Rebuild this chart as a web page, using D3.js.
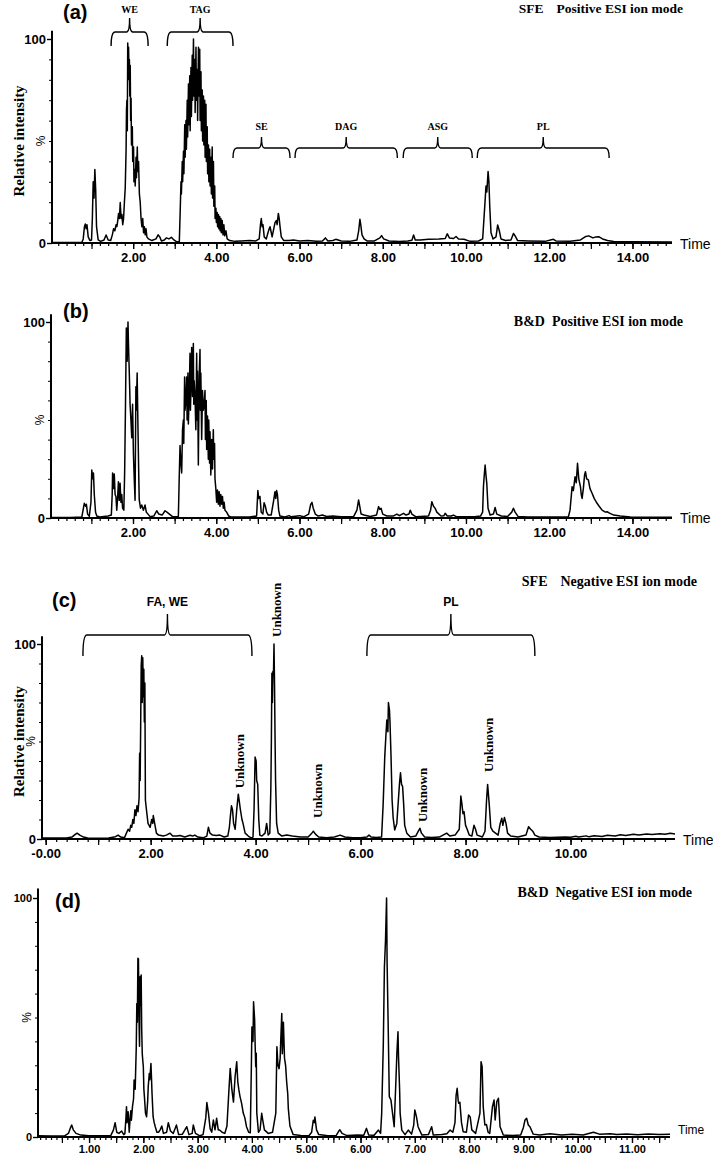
<!DOCTYPE html>
<html lang="en">
<head>
<meta charset="UTF-8" />
<title>LC-MS chromatograms (a)-(d)</title>
<script src="https://cdn.jsdelivr.net/npm/d3@7"></script>
<style>
  body { margin: 0; background: #fff; }
  svg { display: block; }
  .serif { font-family: "Liberation Serif", "Times New Roman", serif; font-weight: bold; }
  .sans { font-family: "Liberation Sans", Arial, sans-serif; }
</style>
</head>
<body>
<script>
// ---- data: [time (min), relative intensity (%)] ----
const traceA = [[0.05,0.3],[0.5,0.3],[0.77,0.4],[0.8,2],[0.83,8],[0.85,9.3],[0.87,7],[0.89,9],[0.92,3],[0.96,1.2],[1.0,1.5],[1.02,12],[1.04,30],[1.06,22],[1.08,36],[1.10,26],[1.12,8],[1.16,1.5],[1.22,0.8],[1.3,1.5],[1.35,3.9],[1.4,1.5],[1.46,1.2],[1.5,4],[1.53,7],[1.56,6],[1.59,9],[1.61,8],[1.63,11],[1.65,14.5],[1.67,12],[1.69,19.8],[1.71,12],[1.73,14],[1.75,9],[1.77,12],[1.79,20],[1.81,27],[1.83,45],[1.84,65],[1.85,70],[1.86,55],[1.87,98],[1.88,80],[1.89,96],[1.90,84],[1.91,90],[1.92,72],[1.93,87],[1.94,60],[1.95,71],[1.96,48],[1.98,57],[1.99,40],[2.01,47],[2.02,30],[2.04,36],[2.05,28],[2.07,42],[2.08,32],[2.10,47],[2.11,35],[2.13,40],[2.15,24],[2.17,20],[2.19,12],[2.21,8],[2.23,12],[2.25,5],[2.27,8],[2.29,4],[2.31,7],[2.33,3],[2.37,2],[2.45,1.2],[2.55,2],[2.6,4],[2.64,3],[2.68,1],[2.75,1.5],[2.8,2.5],[2.86,2],[2.92,2.8],[2.98,1.5],[3.05,0.6],[3.11,0.8],[3.13,15],[3.15,30],[3.16,24],[3.18,40],[3.19,30],[3.21,45],[3.22,34],[3.24,58],[3.25,42],[3.27,60],[3.28,46],[3.30,70],[3.31,52],[3.33,78],[3.34,58],[3.36,82],[3.37,55],[3.39,86],[3.40,62],[3.42,92],[3.43,70],[3.45,100],[3.46,72],[3.48,90],[3.49,64],[3.51,96],[3.52,70],[3.54,85],[3.55,60],[3.57,96],[3.58,72],[3.60,95],[3.61,60],[3.63,84],[3.64,55],[3.66,75],[3.67,50],[3.69,72],[3.70,48],[3.72,70],[3.73,42],[3.75,68],[3.76,40],[3.78,57],[3.79,34],[3.81,48],[3.82,30],[3.84,46],[3.85,28],[3.87,42],[3.88,24],[3.90,47],[3.91,22],[3.93,40],[3.94,18],[3.96,28],[3.97,12],[3.99,17],[4.00,10],[4.02,15],[4.03,8],[4.05,14],[4.06,7],[4.08,13],[4.09,6],[4.11,12],[4.12,5],[4.14,11],[4.16,4],[4.18,9],[4.20,3.5],[4.23,6],[4.26,2],[4.32,1.2],[4.45,0.8],[4.6,1],[4.8,1.2],[4.95,1],[5.03,2],[5.06,9],[5.08,12],[5.10,8],[5.12,9],[5.15,3],[5.2,2],[5.24,5],[5.27,7],[5.29,8],[5.31,6],[5.34,3],[5.38,7],[5.41,10],[5.44,11],[5.46,9],[5.49,14.5],[5.51,12],[5.53,8],[5.56,3],[5.62,1.2],[5.75,1.2],[5.85,1.5],[6.0,1],[6.2,1.2],[6.4,0.8],[6.55,1],[6.62,2.5],[6.68,1],[6.8,1.2],[6.87,1.8],[7.0,1],[7.2,0.8],[7.38,1.5],[7.42,6],[7.45,11.6],[7.47,9],[7.5,4],[7.55,2],[7.62,1],[7.8,1],[7.93,2.5],[7.97,3.6],[8.02,2],[8.15,1],[8.4,0.7],[8.6,1],[8.7,1.3],[8.74,3.9],[8.78,1.5],[8.9,1.5],[9.1,1.8],[9.35,2],[9.5,2.2],[9.55,4.5],[9.6,2.5],[9.7,2.2],[9.76,3.2],[9.82,2],[9.95,1.8],[10.1,0.8],[10.3,1],[10.4,2],[10.45,18],[10.48,28],[10.5,25],[10.53,35],[10.55,30],[10.57,18],[10.6,5],[10.65,2],[10.72,3],[10.76,8.8],[10.8,6],[10.84,2],[10.95,1.2],[11.08,1.5],[11.14,4.7],[11.18,3.5],[11.24,1.2],[11.5,1],[11.9,0.8],[12.1,1.8],[12.16,1],[12.5,0.8],[12.75,1.5],[12.88,3.2],[12.95,3.5],[13.05,2.5],[13.12,3],[13.19,3.1],[13.28,2],[13.4,1.2],[13.55,0.7],[14.0,0.6],[14.95,0.5]];

const traceB = [[0.03,0.3],[0.5,0.3],[0.77,0.5],[0.8,4],[0.83,7.5],[0.86,6],[0.88,7],[0.91,2],[0.95,0.8],[0.99,8],[1.01,24.5],[1.03,20],[1.05,23],[1.07,12],[1.1,3],[1.13,1],[1.2,0.5],[1.3,0.8],[1.4,1],[1.48,1.5],[1.5,12],[1.51,23],[1.53,15],[1.55,22.5],[1.57,12],[1.59,11],[1.61,4],[1.63,10],[1.65,18.5],[1.67,9],[1.69,17.7],[1.71,8],[1.73,12],[1.75,5],[1.78,4],[1.8,24],[1.82,58],[1.84,97],[1.86,80],[1.88,100],[1.89,90],[1.91,75],[1.93,58],[1.95,50],[1.97,41],[1.99,58],[2.01,33],[2.03,20],[2.05,9],[2.07,67],[2.08,55],[2.10,74],[2.12,45],[2.14,20],[2.15,9.2],[2.18,5],[2.21,6.6],[2.25,4],[2.29,6.6],[2.32,3],[2.41,0.7],[2.5,1],[2.57,3.7],[2.62,2],[2.7,1.5],[2.77,3.7],[2.83,2.7],[2.95,0.7],[3.09,0.7],[3.11,20],[3.13,37],[3.15,28],[3.17,23],[3.19,45],[3.21,50],[3.22,38],[3.24,72],[3.25,55],[3.27,60],[3.29,72],[3.30,50],[3.32,74],[3.33,48],[3.35,62],[3.37,84],[3.38,55],[3.40,72],[3.41,87],[3.43,62],[3.45,89],[3.46,58],[3.47,70],[3.49,62],[3.51,45],[3.53,84],[3.54,50],[3.55,75],[3.57,27],[3.59,72],[3.61,86],[3.62,55],[3.63,74],[3.65,40],[3.67,65],[3.69,55],[3.71,58],[3.73,65],[3.74,40],[3.76,60],[3.77,35],[3.79,52],[3.81,30],[3.82,50],[3.84,28],[3.85,44],[3.87,22],[3.89,40],[3.91,25],[3.93,45],[3.94,30],[3.96,38],[3.97,20],[3.99,15],[4.01,8],[4.03,14.3],[4.05,7],[4.07,13.4],[4.09,6],[4.11,12],[4.13,7],[4.15,11],[4.17,5],[4.19,8],[4.21,4],[4.25,3],[4.3,1],[4.35,0.5],[4.8,0.5],[4.97,1],[5.0,14],[5.02,10],[5.05,11],[5.08,3],[5.12,2],[5.15,7.8],[5.18,6],[5.21,3],[5.25,1.5],[5.32,1.5],[5.38,9],[5.41,13.4],[5.43,10],[5.45,14],[5.47,12],[5.5,4],[5.53,1],[5.65,0.5],[5.75,1.2],[5.8,0.6],[6.0,1.2],[6.1,0.6],[6.22,2],[6.27,7],[6.3,8],[6.33,5],[6.38,2],[6.45,1],[6.55,1.5],[6.65,0.8],[6.8,1],[7.0,0.6],[7.3,0.7],[7.38,4],[7.42,9.2],[7.44,7],[7.48,2],[7.55,1.5],[7.7,0.8],[7.85,1.5],[7.9,5.8],[7.93,4.4],[7.96,5],[8.0,2],[8.1,1],[8.25,1],[8.34,2],[8.4,1.2],[8.5,2.4],[8.56,1.5],[8.63,2],[8.66,4],[8.7,2],[8.8,0.6],[9.1,1],[9.15,4],[9.18,8.3],[9.22,6],[9.26,4.9],[9.3,3],[9.4,1],[9.47,1.2],[9.5,2.4],[9.55,1],[9.65,1],[9.7,1.5],[9.78,0.6],[10.2,0.6],[10.35,1],[10.4,3],[10.42,16],[10.44,22],[10.46,27],[10.48,22],[10.5,17.7],[10.53,5],[10.58,1.5],[10.66,2],[10.7,5.4],[10.74,2],[10.85,1],[11.0,0.8],[11.1,3],[11.14,5],[11.18,3],[11.25,0.8],[11.5,0.5],[12.46,0.5],[12.5,4],[12.55,16],[12.58,14],[12.62,21],[12.65,18],[12.68,27.9],[12.71,20],[12.75,16],[12.77,12],[12.79,10],[12.82,15],[12.85,22],[12.87,23.6],[12.9,20],[12.94,19.4],[12.98,15],[13.03,12.6],[13.08,10],[13.15,7.5],[13.2,6],[13.27,4],[13.35,3],[13.39,3.2],[13.45,2.5],[13.55,1.5],[13.71,1],[13.95,0.5],[14.95,0.4]];

const traceC = [[-0.07,0.5],[0.4,0.5],[0.5,1],[0.57,2.5],[0.6,3],[0.65,2],[0.72,1],[0.8,0.5],[1.0,0.4],[1.2,0.5],[1.33,1.2],[1.38,2],[1.43,1],[1.5,0.6],[1.57,5],[1.6,4],[1.62,7],[1.64,6],[1.66,10],[1.68,8],[1.7,15],[1.72,12],[1.74,17],[1.76,14],[1.78,21],[1.79,44],[1.80,30],[1.81,58],[1.82,89],[1.83,94],[1.84,70],[1.85,93],[1.86,73],[1.87,87],[1.88,60],[1.89,80],[1.90,20],[1.92,15],[1.95,8],[1.99,6],[2.02,10],[2.04,8],[2.05,12],[2.07,9],[2.09,6],[2.11,3],[2.15,2],[2.24,1.5],[2.3,2],[2.37,3],[2.42,1.5],[2.5,1.5],[2.56,1.8],[2.65,1],[2.75,1.9],[2.8,1.5],[2.84,2],[2.9,1],[3.0,0.6],[3.07,1.5],[3.1,6],[3.13,3],[3.18,2],[3.25,1.8],[3.32,2],[3.4,1],[3.47,1.5],[3.5,6],[3.52,12],[3.54,17],[3.56,15],[3.58,8],[3.61,5],[3.64,15],[3.67,23],[3.69,19],[3.71,15],[3.74,10],[3.76,8],[3.8,3],[3.86,1.5],[3.92,0.5],[3.95,1],[3.97,15],[3.99,42],[4.01,40],[4.02,30],[4.04,28],[4.06,10],[4.08,2],[4.12,1.5],[4.18,3],[4.21,8],[4.24,2],[4.27,3],[4.29,26],[4.3,50],[4.31,85],[4.32,70],[4.33,86],[4.34,84],[4.35,100],[4.36,80],[4.37,52],[4.38,30],[4.40,8],[4.43,3],[4.5,1.5],[4.59,2],[4.7,1.5],[4.85,1],[5.0,1],[5.07,3],[5.1,4],[5.14,2.5],[5.2,1],[5.35,0.6],[5.5,1],[5.61,2],[5.7,1],[5.85,0.6],[6.0,0.6],[6.12,1],[6.16,2],[6.2,1],[6.3,0.8],[6.4,1],[6.43,18],[6.46,42],[6.48,52],[6.5,61],[6.52,55],[6.53,70],[6.55,66],[6.56,60],[6.58,42],[6.6,20],[6.62,11],[6.65,4.6],[6.69,8],[6.72,20],[6.74,28],[6.76,34],[6.78,28],[6.8,27],[6.82,18],[6.84,7],[6.88,3],[6.95,1],[7.05,1.5],[7.1,4],[7.13,5.5],[7.16,3],[7.22,1],[7.35,0.8],[7.5,1],[7.64,3],[7.7,1.5],[7.8,2],[7.88,5],[7.91,22],[7.93,18],[7.95,13],[7.97,14],[8.0,7],[8.03,5],[8.07,2],[8.12,1.5],[8.16,7],[8.19,5],[8.22,2],[8.32,1],[8.37,4],[8.4,20],[8.42,28],[8.45,18],[8.48,6],[8.52,4],[8.57,3],[8.62,2],[8.66,8],[8.69,10.6],[8.71,7],[8.74,11],[8.77,8],[8.8,3],[8.86,1.5],[9.0,1],[9.15,2],[9.2,6.3],[9.24,5],[9.28,4],[9.32,2],[9.4,1],[9.6,0.8],[9.9,1],[10.0,0.9],[10.1,1.4],[10.15,1],[10.3,1.6],[10.35,1.1],[10.45,1.7],[10.6,1.3],[10.7,1.9],[10.85,1.5],[10.95,2.2],[11.05,1.8],[11.2,2.4],[11.3,2.1],[11.45,2.6],[11.55,2.3],[11.7,2.7],[11.8,2.4],[11.9,2.9],[11.99,2.6]];

const traceD = [[0.06,0.5],[0.3,0.4],[0.55,0.5],[0.62,1.5],[0.66,4],[0.68,5],[0.71,3],[0.76,1.5],[0.85,0.8],[1.0,0.5],[1.2,0.5],[1.4,0.6],[1.45,3],[1.48,6],[1.51,2],[1.55,1.5],[1.6,2.5],[1.64,1],[1.66,1.4],[1.68,8],[1.69,12.7],[1.70,6],[1.72,10.6],[1.74,2],[1.76,9],[1.77,11],[1.78,7],[1.80,12.7],[1.82,16],[1.83,23.8],[1.85,20],[1.87,37.8],[1.88,55.9],[1.89,48],[1.90,74.8],[1.91,74.5],[1.92,50],[1.93,38],[1.94,67],[1.95,55],[1.96,67.8],[1.97,45],[1.98,35],[1.99,32],[2.00,29.4],[2.01,20],[2.02,16.9],[2.04,9.9],[2.06,8.5],[2.08,15],[2.09,21],[2.11,26.6],[2.12,24],[2.14,30.8],[2.15,25],[2.16,18.3],[2.18,8.5],[2.20,6],[2.22,4.3],[2.25,2],[2.28,2],[2.31,3],[2.34,4.6],[2.37,1.5],[2.43,2],[2.46,6],[2.5,2.5],[2.55,1.5],[2.61,5],[2.65,1],[2.72,1.2],[2.80,4.3],[2.84,1],[2.9,1.5],[2.92,5],[2.96,1.5],[3.04,0.5],[3.1,1],[3.15,8],[3.17,14.4],[3.2,9.9],[3.23,3.5],[3.26,2],[3.29,7.1],[3.32,3],[3.35,7.8],[3.38,3],[3.41,2.8],[3.45,2],[3.5,1.5],[3.54,4.6],[3.57,17],[3.6,28.7],[3.63,20],[3.66,14.6],[3.69,25.2],[3.72,31.5],[3.74,23],[3.76,19.7],[3.78,17],[3.81,14.1],[3.84,10],[3.87,8],[3.9,4.3],[3.94,2],[3.97,1.8],[3.99,30],[4.0,46],[4.02,40],[4.03,56.6],[4.05,49],[4.06,38],[4.07,29.4],[4.08,35],[4.09,10],[4.12,2],[4.15,3],[4.18,9.9],[4.2,7],[4.23,3],[4.3,1.5],[4.38,2],[4.44,10],[4.46,37.8],[4.48,30],[4.5,28.6],[4.52,33],[4.53,40],[4.55,51.7],[4.56,34.8],[4.58,48],[4.6,33],[4.62,30],[4.64,23],[4.66,18],[4.67,12],[4.7,4.6],[4.76,1],[4.9,0.6],[5.05,0.5],[5.1,2],[5.13,7],[5.15,6],[5.16,8.4],[5.19,3],[5.23,1],[5.4,0.5],[5.55,0.6],[5.6,2.5],[5.62,3],[5.66,1.5],[5.75,0.6],[5.95,0.8],[6.06,0.7],[6.11,3.6],[6.15,0.8],[6.25,0.7],[6.33,2.9],[6.37,1.5],[6.39,9.9],[6.42,39],[6.44,71],[6.46,82],[6.48,100],[6.49,72.7],[6.51,46],[6.53,16.9],[6.56,15.5],[6.59,9.9],[6.62,4.3],[6.65,22.5],[6.67,35],[6.69,44],[6.70,33.6],[6.72,20],[6.73,9.9],[6.76,2.9],[6.82,1],[6.88,2.9],[6.94,1.2],[6.98,5],[7.0,11.3],[7.03,8.5],[7.06,4.3],[7.13,0.8],[7.25,1],[7.31,4.3],[7.34,0.8],[7.5,1],[7.59,1.4],[7.65,2.9],[7.7,2],[7.74,6],[7.76,17.3],[7.78,20.4],[7.8,15],[7.81,14.1],[7.83,14.5],[7.86,6],[7.89,2.2],[7.95,2],[7.99,9.2],[8.02,8.4],[8.05,3],[8.12,1.5],[8.2,10],[8.22,31.5],[8.24,29.4],[8.26,12.7],[8.29,5],[8.32,5.2],[8.35,2],[8.38,1.5],[8.43,12.7],[8.46,15.5],[8.48,7.1],[8.51,14.8],[8.54,16.2],[8.57,4.3],[8.63,0.8],[8.8,0.6],[8.95,0.8],[9.0,4],[9.03,7.1],[9.06,7.8],[9.09,5],[9.12,4.3],[9.18,1.2],[9.3,0.8],[9.49,1.4],[9.7,0.8],[9.9,1.2],[10.1,0.8],[10.29,2],[10.4,1.2],[10.6,1.4],[10.72,1],[10.9,1.3],[11.1,0.9],[11.3,1.3],[11.5,1],[11.7,1.1]];

// axis ticks and labels
const ticksAB = [2, 4, 6, 8, 10, 12, 14];
const tickLabelsAB = ["2.00", "4.00", "6.00", "8.00", "10.00", "12.00", "14.00"];
const ticksC = [0, 2, 4, 6, 8, 10];
const tickLabelsC = ["-0.00", "2.00", "4.00", "6.00", "8.00", "10.00"];
const ticksD = [1, 2, 3, 4, 5, 6, 7, 8, 9, 10, 11];
const tickLabelsD = ["1.00", "2.00", "3.00", "4.00", "5.00", "6.00", "7.00", "8.00", "9.00", "10.00", "11.00"];

// lipid class brackets: [label, start time, end time]
const bracketsA = [["WE", 1.47, 2.36], ["TAG", 2.82, 4.40], ["SE", 4.40, 5.77], ["DAG", 5.89, 8.35], ["ASG", 8.49, 10.15], ["PL", 10.27, 13.44]];
const bracketsC = [["FA, WE", 0.71, 3.93], ["PL", 6.12, 9.32]];
// "Unknown" annotations in (c): [time, intensity at foot of label]
const unknownC = [[4.39, 103.6], [3.70, 26], [5.17, 10.8], [7.17, 8.7], [8.44, 34.4]];

const panels = [
  { tag: "(a)", trace: traceA, ticks: ticksAB, labels: tickLabelsAB,
    xDomain: [0.05, 14.95], xRange: [52, 672], yRange: [243, 39],
    minor: 0.2, major: 1, labelSize: 13, tagPos: [63, 19],
    title: ["SFE", "Positive ESI ion mode"], titleGap: 13, titleX: 683, titleY: 13, titleSize: 13.5,
    timeSize: 14, timeDy: 6, yTitle: true,
    braces: bracketsA, braceFont: "serif", braceSize: 10,
    braceRows: [{ line: 32, hook: 14, tip: 14, text: 13 }, { line: 148, hook: 10, tip: 11, text: 130 }],
    braceRowOf: [0, 0, 1, 1, 1, 1] },
  { tag: "(b)", trace: traceB, ticks: ticksAB, labels: tickLabelsAB,
    xDomain: [0.03, 14.95], xRange: [51, 672], yRange: [518, 322],
    minor: 0.2, major: 1, labelSize: 13, tagPos: [63, 318],
    title: ["B&D", "Positive ESI ion mode"], titleGap: 7, titleX: 683, titleY: 326, titleSize: 14,
    timeSize: 14, timeDy: 5, yTitle: false },
  { tag: "(c)", trace: traceC, ticks: ticksC, labels: tickLabelsC,
    xDomain: [-0.07, 11.99], xRange: [42, 675], yRange: [839, 644],
    minor: 0.2, major: 1, labelSize: 13, tagPos: [52, 607],
    title: ["SFE", "Negative ESI ion mode"], titleGap: 13, titleX: 697, titleY: 586, titleSize: 14,
    timeSize: 14, timeDy: 6, yTitle: true,
    braces: bracketsC, braceFont: "sans", braceSize: 12,
    braceRows: [{ line: 635, hook: 21, tip: 21, text: 606 }], braceRowOf: [0, 0],
    unknown: unknownC },
  { tag: "(d)", trace: traceD, ticks: ticksD, labels: tickLabelsD,
    xDomain: [0.06, 11.70], xRange: [38, 670], yRange: [1137, 898],
    minor: 0.1, major: 0.5, labelSize: 11, tagPos: [55, 908],
    title: ["B&D", "Negative ESI ion mode"], titleGap: 7, titleX: 692, titleY: 897, titleSize: 14,
    timeSize: 12, timeDy: -3, yTitle: false }
];

const W = 713, H = 1155;
const svg = d3.select("body").append("svg")
  .attr("width", W).attr("height", H)
  .attr("viewBox", `0 0 ${W} ${H}`);
svg.append("rect").attr("width", W).attr("height", H).attr("fill", "#fff");

function brace(x1, x2, yl, hook, tip) {
  const xm = (x1 + x2) / 2, r = 4, rm = 3;
  return `M${x1},${yl + hook} Q${x1},${yl} ${x1 + r},${yl} L${xm - rm},${yl} ` +
    `Q${xm},${yl} ${xm},${yl - tip} Q${xm},${yl} ${xm + rm},${yl} ` +
    `L${x2 - r},${yl} Q${x2},${yl} ${x2},${yl + hook}`;
}

panels.forEach(p => {
  const g = svg.append("g");
  const x = d3.scaleLinear().domain(p.xDomain).range(p.xRange);
  const y = d3.scaleLinear().domain([0, 100]).range(p.yRange);
  const y0 = y(0);
  const bold = s => s.attr("font-family", '"Liberation Sans", Arial, sans-serif')
    .attr("font-weight", "bold").attr("font-size", p.labelSize);

  // minor and major time ticks
  const t0 = Math.ceil(p.xDomain[0] / p.minor) * p.minor;
  const minorVals = d3.range(Math.round(t0 / p.minor), Math.floor(p.xDomain[1] / p.minor) + 1)
    .map(k => +(k * p.minor).toFixed(2)).filter(v => v >= p.xDomain[0] && v <= p.xDomain[1]);
  const majorVals = minorVals.filter(v => Math.abs(v / p.major - Math.round(v / p.major)) < 1e-6);
  g.append("g").attr("transform", `translate(0,${y0})`)
    .call(d3.axisBottom(x).tickValues(minorVals).tickSize(3).tickSizeOuter(0).tickFormat(""))
    .call(a => a.select(".domain").remove());
  g.append("g").attr("transform", `translate(0,${y0})`)
    .call(d3.axisBottom(x).tickValues(majorVals).tickSize(6).tickSizeOuter(0).tickFormat(""))
    .call(a => a.select(".domain").remove());
  g.append("g").attr("transform", `translate(0,${y0})`)
    .call(d3.axisBottom(x).tickValues(p.ticks).tickSize(6).tickSizeOuter(0)
      .tickPadding(p.labelSize === 13 ? 4 : 2.5)
      .tickFormat((d, i) => p.labels[i]))
    .call(a => a.select(".domain").remove())
    .call(bold);
  g.selectAll(".tick line").attr("stroke", "#000").attr("stroke-width", 1.2);

  // y axis
  g.append("g").attr("transform", `translate(${p.xRange[0]},0)`)
    .call(d3.axisLeft(y).tickValues(d3.range(10, 100, 10)).tickSize(3).tickFormat(""))
    .call(a => a.select(".domain").remove());
  g.append("g").attr("transform", `translate(${p.xRange[0]},0)`)
    .call(d3.axisLeft(y).tickValues([0, 100]).tickSize(5).tickPadding(1).tickFormat(d3.format("d")))
    .call(a => a.select(".domain").remove())
    .call(bold)
    .call(a => a.selectAll("line").attr("stroke-width", 1.4));

  // axis lines
  g.append("line").attr("x1", x(p.xDomain[0])).attr("x2", x(p.xDomain[1]))
    .attr("y1", y0).attr("y2", y0).attr("stroke", "#000").attr("stroke-width", 2);
  g.append("line").attr("x1", p.xRange[0]).attr("x2", p.xRange[0])
    .attr("y1", y0).attr("y2", y(104)).attr("stroke", "#000").attr("stroke-width", 2);

  // chromatogram
  g.append("path").datum(p.trace)
    .attr("fill", "none").attr("stroke", "#000").attr("stroke-width", 1.5)
    .attr("stroke-linejoin", "round")
    .attr("d", d3.line().x(d => x(d[0])).y(d => y(d[1])));

  // texts
  g.append("text").attr("class", "sans").attr("x", p.tagPos[0]).attr("y", p.tagPos[1])
    .attr("font-size", 20).attr("font-weight", "bold").text(p.tag);
  const tt = g.append("text").attr("class", "serif").attr("x", p.titleX).attr("y", p.titleY)
    .attr("font-size", p.titleSize).attr("text-anchor", "end");
  tt.append("tspan").text(p.title[0]);
  tt.append("tspan").attr("dx", p.titleGap).text(p.title[1]);

  g.append("text").attr("class", "sans").attr("x", p.xRange[1] + 8).attr("y", y0 + p.timeDy)
    .attr("font-size", p.timeSize).text("Time");
  g.append("text").attr("class", "sans").attr("font-size", 12)
    .attr("transform", `translate(${p.xRange[0] - 11},${y(50)}) rotate(-90)`)
    .attr("text-anchor", "middle").attr("dy", "0.35em").text("%");
  if (p.yTitle) {
    g.append("text").attr("class", "serif").attr("font-size", 15)
      .attr("transform", `translate(24,${y(50)}) rotate(-90)`)
      .attr("text-anchor", "middle").text("Relative intensity");
  }

  // class brackets
  if (p.braces) {
    p.braces.forEach((b, i) => {
      const row = p.braceRows[p.braceRowOf[i]];
      const x1 = x(b[1]), x2 = x(b[2]);
      g.append("path").attr("d", brace(x1, x2, row.line, row.hook, row.tip))
        .attr("fill", "none").attr("stroke", "#000").attr("stroke-width", 1.4);
      g.append("text").attr("class", p.braceFont)
        .attr("font-weight", "bold").attr("font-size", p.braceSize)
        .attr("x", (x1 + x2) / 2).attr("y", row.text).attr("text-anchor", "middle").text(b[0]);
    });
  }
  if (p.unknown) {
    p.unknown.forEach(u => {
      g.append("text").attr("class", "serif").attr("font-size", 13)
        .attr("transform", `translate(${x(u[0])},${y(u[1])}) rotate(-90)`)
        .attr("dy", "0.35em").text("Unknown");
    });
  }
});
</script>
</body>
</html>
